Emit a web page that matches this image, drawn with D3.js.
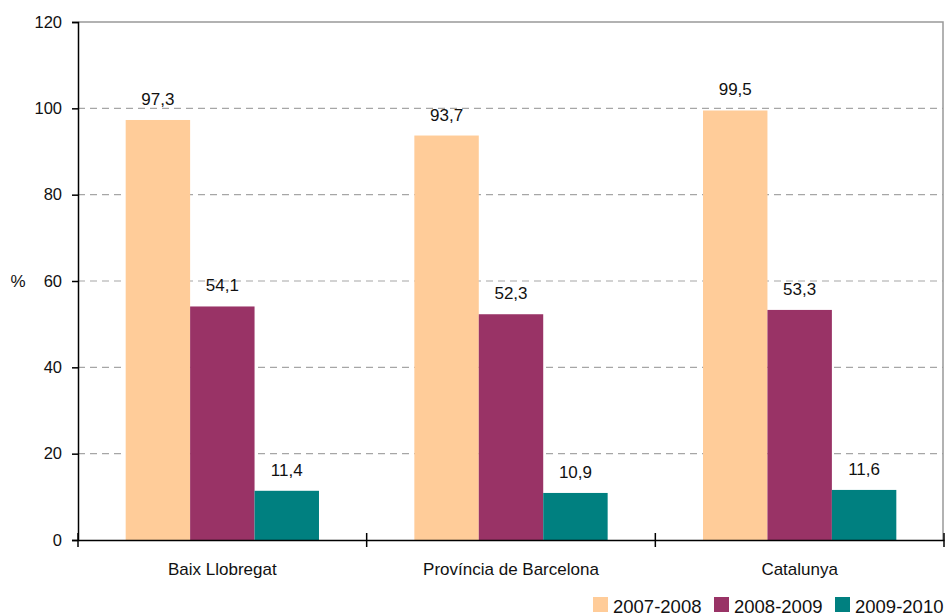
<!DOCTYPE html>
<html>
<head>
<meta charset="utf-8">
<script src="https://cdn.jsdelivr.net/npm/d3@7"></script>
<style>
  body { margin: 0; background: #fff; }
  text { font-family: "Liberation Sans", Arial, sans-serif; fill: #111; }
</style>
</head>
<body>
<div id="chart"></div>
<script>
// data
const categories = ["Baix Llobregat", "Província de Barcelona", "Catalunya"];
const seriesNames = ["2007-2008", "2008-2009", "2009-2010"];
const v2007 = [97.3, 93.7, 99.5];
const v2008 = [54.1, 52.3, 53.3];
const v2009 = [11.4, 10.9, 11.6];
const yTicks = [0, 20, 40, 60, 80, 100, 120];
const colors = ["#FFCC99", "#993366", "#008080"];

const seriesValues = [v2007, v2008, v2009];
const rows = categories.map((c, i) => ({
  cat: c,
  vals: seriesNames.map((s, j) => ({ s: s, v: seriesValues[j][i], color: colors[j] }))
}));

const W = 946, H = 615;
const plotLeft = 78, plotRight = 944, plotTop = 22, plotBottom = 540;

const svg = d3.select("#chart").append("svg")
  .attr("width", W)
  .attr("height", H);

const y = d3.scaleLinear().domain([0, 120]).range([plotBottom, plotTop]);

const x0 = d3.scaleBand().domain(categories).range([plotLeft, plotRight]).padding(0);
const x1 = d3.scaleBand().domain(seriesNames).range([0, x0.bandwidth()])
  .paddingInner(0).paddingOuter(0.74);

const fmt = v => d3.format(".1f")(v).replace(".", ",");

// dashed grid lines
svg.append("g")
  .selectAll("line")
  .data(yTicks.filter(t => t > 0 && t < 120))
  .join("line")
  .attr("x1", plotLeft)
  .attr("x2", plotRight - 1)
  .attr("y1", d => y(d))
  .attr("y2", d => y(d))
  .attr("stroke", "#a6a6a6")
  .attr("stroke-width", 1.2)
  .attr("stroke-dasharray", "7,5");

// plot border (top and right, grey)
svg.append("path")
  .attr("d", `M${plotLeft},${plotTop}H${plotRight - 1}V${plotBottom}`)
  .attr("fill", "none")
  .attr("stroke", "#999")
  .attr("stroke-width", 1.5);

// bars
const groups = svg.append("g")
  .selectAll("g")
  .data(rows)
  .join("g")
  .attr("transform", d => `translate(${x0(d.cat)},0)`);

groups.selectAll("rect")
  .data(d => d.vals)
  .join("rect")
  .attr("x", d => x1(d.s))
  .attr("y", d => y(d.v))
  .attr("width", x1.bandwidth())
  .attr("height", d => y(0) - y(d.v))
  .attr("fill", d => d.color);

groups.selectAll("text")
  .data(d => d.vals)
  .join("text")
  .attr("x", d => x1(d.s) + x1.bandwidth() / 2)
  .attr("y", d => y(d.v) - 15)
  .attr("text-anchor", "middle")
  .style("font-size", "17px")
  .text(d => fmt(d.v));

// y axis
const yAxis = svg.append("g")
  .attr("transform", `translate(${plotLeft},0)`)
  .call(d3.axisLeft(y).tickValues(yTicks).tickSize(6).tickPadding(10));
yAxis.select(".domain").attr("stroke", "#000").attr("stroke-width", 1.5);
yAxis.selectAll(".tick line").attr("stroke", "#000").attr("stroke-width", 1.5);
yAxis.selectAll(".tick text")
  .style("font-size", "16.5px")
  .attr("font-family", null)
  .attr("fill", "#111");

svg.append("text")
  .attr("x", 18)
  .attr("y", y(60) + 6)
  .attr("text-anchor", "middle")
  .style("font-size", "17px")
  .text("%");

// x axis
const xAxis = svg.append("g")
  .attr("transform", `translate(0,${plotBottom})`)
  .call(d3.axisBottom(x0).tickSize(0).tickPadding(23));
xAxis.select(".domain").attr("stroke", "#000").attr("stroke-width", 1.5);
xAxis.selectAll(".tick text")
  .style("font-size", "17px")
  .attr("font-family", null)
  .attr("fill", "#111");

// x tick marks at category boundaries
const edges = [x0.range()[0]].concat(categories.map(c => x0(c) + x0.bandwidth()));
xAxis.selectAll(".edge")
  .data(edges)
  .join("line")
  .attr("class", "edge")
  .attr("x1", d => d)
  .attr("x2", d => d)
  .attr("y1", -7)
  .attr("y2", 7)
  .attr("stroke", "#000")
  .attr("stroke-width", 1.5);

// legend
const legend = svg.append("g")
  .selectAll("g")
  .data(seriesNames)
  .join("g")
  .attr("transform", (d, i) => `translate(${593 + i * 121},597)`);

legend.append("rect")
  .attr("width", 15)
  .attr("height", 15)
  .attr("fill", (d, i) => colors[i]);

legend.append("text")
  .attr("x", 20)
  .attr("y", 15.5)
  .style("font-size", "18.5px")
  .text(d => d);
</script>
</body>
</html>
